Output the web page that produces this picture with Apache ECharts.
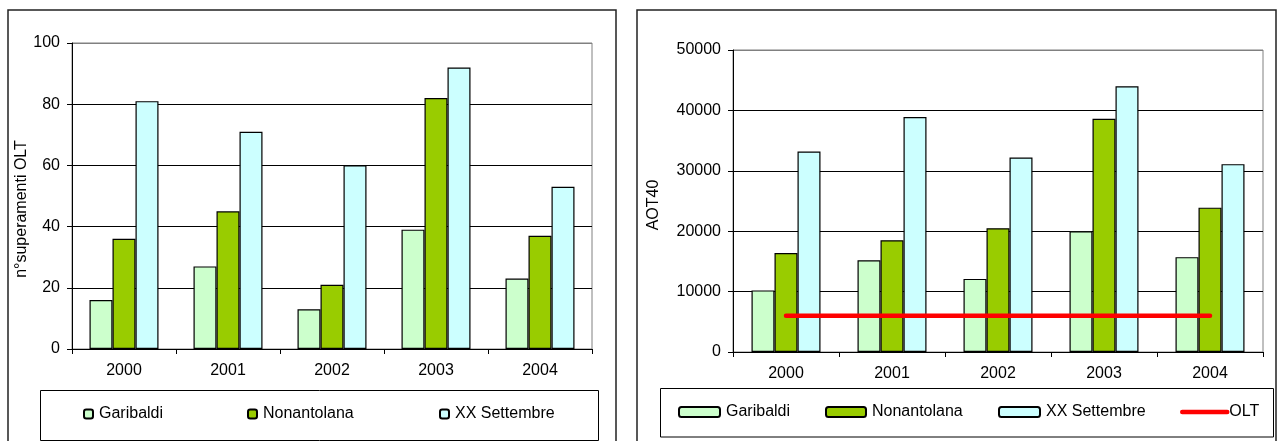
<!DOCTYPE html>
<html>
<head>
<meta charset="utf-8">
<script src="https://cdn.jsdelivr.net/npm/echarts@6/dist/echarts.min.js"></script>
<style>
html,body{margin:0;padding:0;background:#fff;}
#c{width:1278px;height:441px;}
</style>
</head>
<body>
<div id="c"></div>
<script>
var years = ['2000', '2001', '2002', '2003', '2004'];
var seriesNames = ['Garibaldi', 'Nonantolana', 'XX Settembre'];
// Left chart: n° superamenti OLT
var leftGaribaldi = [16, 27, 13, 39, 23];
var leftNonantolana = [36, 45, 21, 82, 37];
var leftSettembre = [81, 71, 60, 92, 53];
// Right chart: AOT40
var rightGaribaldi = [10200, 15200, 12100, 20000, 15700];
var rightNonantolana = [16400, 18500, 20500, 38600, 23900];
var rightSettembre = [33200, 38900, 32200, 44000, 31100];
var oltValues = [6000, 6000, 6000, 6000, 6000];
var leftTicks = { min: 0, max: 100, interval: 20 };
var rightTicks = { min: 0, max: 50000, interval: 10000 };
var leftTitle = 'n°superamenti OLT';
var rightTitle = 'AOT40';

var FONT = "'Liberation Sans', Arial, sans-serif";
var colors = ['#CCFFCC', '#99CC00', '#CCFFFF'];

function barSeries(name, data, idx, color) {
  return {
    type: 'bar', name: name, data: data,
    xAxisIndex: idx, yAxisIndex: idx,
    barWidth: 23, barGap: '0%',
    itemStyle: { color: color, borderColor: '#000', borderWidth: 1.2 },
    emphasis: { disabled: true },
    animation: false
  };
}
function xAx(idx) {
  return {
    type: 'category', gridIndex: idx, data: years,
    axisLine: { lineStyle: { color: '#000', width: 1 } },
    axisTick: { show: true, length: 5, lineStyle: { color: '#000' } },
    axisLabel: { color: '#000', fontFamily: FONT, fontSize: 16, margin: 14 },
    splitLine: { show: false }
  };
}
function yAx(idx, t, name, gap, pad) {
  return {
    type: 'value', gridIndex: idx, min: t.min, max: t.max, interval: t.interval,
    name: name, nameLocation: 'middle', nameGap: gap, nameRotate: 90,
    nameTextStyle: { color: '#000', fontFamily: FONT, fontSize: 16, padding: pad },
    axisLine: { show: true, lineStyle: { color: '#000', width: 1 } },
    axisTick: { show: true, length: 5, lineStyle: { color: '#000' } },
    axisLabel: { color: '#000', fontFamily: FONT, fontSize: 16, margin: 12, formatter: function (v) { return String(v); } },
    splitLine: { show: true, lineStyle: { color: ['#000', '#000', '#000', '#000', '#000', '#808080'], width: 1 } }
  };
}
function leg(name, left, top, w, h) {
  return {
    data: [name], left: left, top: top, padding: 0,
    itemWidth: w, itemHeight: h, itemGap: 0,
    selectedMode: false,
    textStyle: { color: '#000', fontFamily: FONT, fontSize: 16, lineHeight: 16, padding: [0, 0, 0, 1] }
  };
}
var oltLegend = leg('OLT', 1180, 404, 45, 10);
oltLegend.itemStyle = { opacity: 0 };
oltLegend.lineStyle = { color: '#FF0000', width: 4.5, cap: 'round' };
oltLegend.textStyle.padding = [0, 0, 0, -3];

var chart = echarts.init(document.getElementById('c'), null, { renderer: 'canvas' });
chart.setOption({
  backgroundColor: '#fff',
  animation: false,
  grid: [
    { left: 72, right: 1278 - 592, top: 43, bottom: 441 - 349, show: true, borderColor: '#808080', borderWidth: 1, backgroundColor: 'transparent' },
    { left: 733, right: 1278 - 1263, top: 50, bottom: 441 - 352, show: true, borderColor: '#808080', borderWidth: 1, backgroundColor: 'transparent' }
  ],
  xAxis: [xAx(0), xAx(1)],
  yAxis: [yAx(0, leftTicks, leftTitle, 32, [0, 26, 0, 0]), yAx(1, rightTicks, rightTitle, 71, [0, 8, 0, 0])],
  legend: [
    leg('Garibaldi', 83, 406, 9, 9),
    leg('Nonantolana', 247, 406, 9, 9),
    leg('XX Settembre', 439, 406, 9, 9),
    leg('Garibaldi', 678, 404, 41, 10),
    leg('Nonantolana', 825, 404, 40, 10),
    leg('XX Settembre', 998, 404, 41, 10),
    oltLegend
  ],
  series: [
    barSeries(seriesNames[0], leftGaribaldi, 0, colors[0]),
    barSeries(seriesNames[1], leftNonantolana, 0, colors[1]),
    barSeries(seriesNames[2], leftSettembre, 0, colors[2]),
    barSeries(seriesNames[0], rightGaribaldi, 1, colors[0]),
    barSeries(seriesNames[1], rightNonantolana, 1, colors[1]),
    barSeries(seriesNames[2], rightSettembre, 1, colors[2]),
    {
      type: 'line', name: 'OLT', data: oltValues,
      xAxisIndex: 1, yAxisIndex: 1,
      symbol: 'none', z: 5,
      lineStyle: { color: '#FF0000', width: 4.5, cap: 'round' },
      itemStyle: { color: '#FF0000' },
      emphasis: { disabled: true }
    }
  ],
  graphic: [
    { type: 'rect', shape: { x: 8, y: 10, width: 608, height: 445 }, style: { fill: 'none', stroke: '#222', lineWidth: 1.5 }, silent: true },
    { type: 'rect', shape: { x: 637, y: 10, width: 639, height: 445 }, style: { fill: 'none', stroke: '#222', lineWidth: 1.5 }, silent: true },
    { type: 'rect', shape: { x: 40.5, y: 390.5, width: 558, height: 50 }, style: { fill: 'none', stroke: '#000', lineWidth: 1 }, silent: true },
    { type: 'rect', shape: { x: 660.5, y: 388.5, width: 613, height: 48.5 }, style: { fill: 'none', stroke: '#000', lineWidth: 1 }, silent: true }
  ]
});
</script>
</body>
</html>
